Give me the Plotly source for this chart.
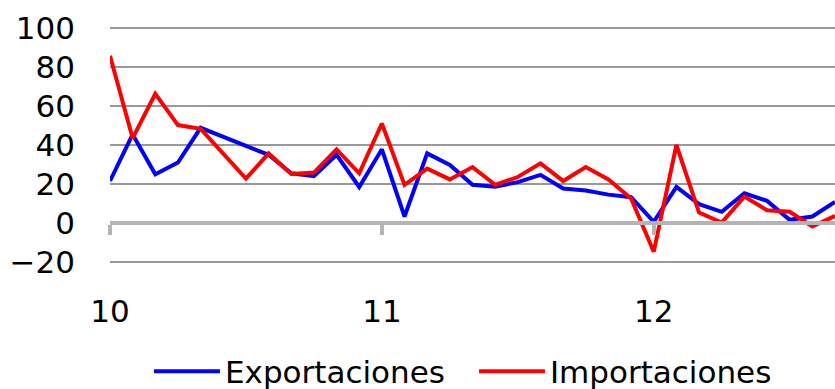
import plotly.graph_objects as go

# Monthly year-on-year change, Jan 2010 - Sep 2012 (33 months)
months = list(range(33))
year_ticks = [0, 12, 24]
year_labels = ["10", "11", "12"]

exportaciones = [21.6, 45.4, 25.0, 31.0, 48.8, 44.0, 39.5, 35.0, 25.5, 24.0,
                 35.0, 18.5, 37.8, 3.4, 35.7, 29.8, 19.6, 18.7, 21.0, 24.7,
                 17.7, 16.7, 14.6, 13.3, 0.7, 18.5, 9.7, 5.8, 15.3, 11.4,
                 1.7, 3.4, 10.9]
importaciones = [85.7, 43.5, 66.2, 50.2, 48.3, 35.2, 22.8, 35.7, 25.2, 25.9,
                 37.8, 25.5, 51.0, 19.6, 27.9, 22.4, 28.7, 19.6, 23.6, 30.6,
                 21.6, 28.7, 22.4, 12.6, -14.6, 40.0, 5.4, 0.3, 13.6, 6.6,
                 5.8, -1.7, 3.7]

y_range = [-25, 105]
y_ticks = [-20, 0, 20, 40, 60, 80, 100]
y_labels = ["\u221220", "0", "20", "40", "60", "80", "100"]

font_family = "DejaVu Sans"

fig = go.Figure()
fig.add_trace(go.Scatter(x=months, y=exportaciones, name="Exportaciones",
                         mode="lines", line=dict(color="#0000ff", width=4)))
fig.add_trace(go.Scatter(x=months, y=importaciones, name="Importaciones",
                         mode="lines", line=dict(color="#ff0000", width=4)))
# invisible trace carrying the zero axis with year ticks
fig.add_trace(go.Scatter(x=months, y=[None] * len(months), xaxis="x2",
                         showlegend=False, hoverinfo="skip"))

zero_pos = (0 - y_range[0]) / (y_range[1] - y_range[0])

fig.update_layout(
    width=835, height=389,
    margin=dict(l=110, r=0, t=18, b=117, autoexpand=False),
    paper_bgcolor="white", plot_bgcolor="white",
    font=dict(family=font_family, size=31, color="black"),
    xaxis=dict(range=[0, 32], tickvals=year_ticks, ticktext=year_labels,
               showgrid=False, zeroline=False, showline=False, ticks="",
               ticklabelstandoff=18, tickfont=dict(size=31), automargin=False),
    xaxis2=dict(overlaying="x", matches="x", anchor="free", position=zero_pos,
                tickvals=year_ticks, showticklabels=False, showgrid=False,
                zeroline=False, showline=True, linecolor="#b4b4b4", linewidth=4,
                ticks="outside", ticklen=10, tickwidth=4, tickcolor="#b4b4b4",
                automargin=False),
    yaxis=dict(range=y_range, tickvals=y_ticks, ticktext=y_labels,
               showgrid=True, gridcolor="#999999", gridwidth=2,
               zeroline=False, showline=False, ticks="",
               ticklabelstandoff=34, tickfont=dict(size=31), automargin=False),
    legend=dict(orientation="h", x=0.502, xanchor="center",
                yref="container", y=0.045, yanchor="middle",
                font=dict(size=31), itemwidth=66, entrywidth=244,
                bgcolor="rgba(0,0,0,0)"),
    showlegend=True,
)

fig.write_html("out.html")
